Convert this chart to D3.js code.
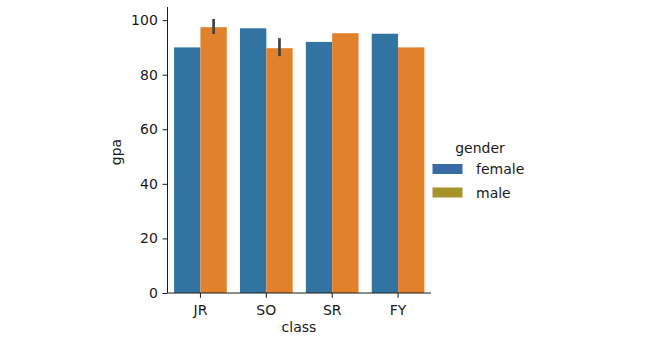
<!DOCTYPE html>
<html><head><meta charset="utf-8">
<script src="https://cdn.jsdelivr.net/npm/d3@7"></script>
<style>body{margin:0;background:#fff}svg{display:block}text{font-family:"DejaVu Sans",sans-serif;fill:#1a1a1a}</style>
</head><body>
<script>
const classes = ["JR","SO","SR","FY"];
const genders = ["female","male"];
const femaleGpa = [90, 97, 92, 95];
const maleGpa = [97.4, 89.7, 95.2, 90];
const maleErrLow = [94.9, 86.8, null, null];
const maleErrHigh = [100.4, 93.4, null, null];
const yTicks = [0,20,40,60,80,100];
const barColors = ["#3274a1","#e1812c"];
const legendColors = ["#3a6aa6","#a8922a"];

const W=645,H=341;
const svg=d3.select("body").append("svg").attr("width",W).attr("height",H);
const pLeft=167.5,pRight=431,pTop=7,pBottom=293;
const x=d3.scaleBand().domain(classes).range([pLeft,pRight]).paddingInner(0).paddingOuter(0);
const y=d3.scaleLinear().domain([0,104.8]).range([pBottom,pTop]);
const xs=d3.scaleBand().domain(genders).range([0,x.bandwidth()*0.8]);
const off=x.bandwidth()*0.1;
const series=[femaleGpa,maleGpa];
genders.forEach((g,gi)=>{
  svg.append("g").selectAll("rect").data(classes).join("rect")
    .attr("x",c=>x(c)+off+xs(g)).attr("width",xs.bandwidth())
    .attr("y",(c,i)=>y(series[gi][i])).attr("height",(c,i)=>y(0)-y(series[gi][i]))
    .attr("fill",barColors[gi]);
});
classes.forEach((c,i)=>{
  if(maleErrLow[i]==null) return;
  const cx=x(c)+off+xs("male")+xs.bandwidth()/2;
  svg.append("line").attr("x1",cx).attr("x2",cx).attr("y1",y(maleErrLow[i])).attr("y2",y(maleErrHigh[i]))
    .attr("stroke","#424242").attr("stroke-width",2.7);
});
const yAxis=svg.append("g").attr("transform",`translate(${pLeft},0)`)
  .call(d3.axisLeft(y).tickValues(yTicks).tickSize(4.9).tickPadding(4.8));
yAxis.select(".domain").attr("d",`M0,${pTop}V${pBottom}`).attr("stroke","#1a1a1a").attr("stroke-width",1);
const xAxis=svg.append("g").attr("transform",`translate(0,${pBottom})`)
  .call(d3.axisBottom(x).tickSize(4.9).tickPadding(7));
xAxis.select(".domain").attr("d",`M${pLeft},0H${pRight}`).attr("stroke","#1a1a1a").attr("stroke-width",1);
svg.selectAll(".tick line").attr("stroke","#1a1a1a");
svg.selectAll(".tick text").style("font-size","14px").style("font-family","DejaVu Sans").attr("fill","#1a1a1a");
svg.append("text").attr("transform","translate(121,152) rotate(-90)").attr("text-anchor","middle")
  .style("font-size","14px").text("gpa");
svg.append("text").attr("x",299).attr("y",331.5).attr("text-anchor","middle").style("font-size","14px").text("class");
const lg=svg.append("g");
lg.append("text").attr("x",480).attr("y",153).attr("text-anchor","middle").style("font-size","14px").text("gender");
genders.forEach((g,i)=>{
  lg.append("rect").attr("x",432.5).attr("y",164+i*23.5).attr("width",30).attr("height",10).attr("fill",legendColors[i]);
  lg.append("text").attr("x",476).attr("y",174+i*23.5).style("font-size","14px").text(g);
});
</script>
</body></html>
